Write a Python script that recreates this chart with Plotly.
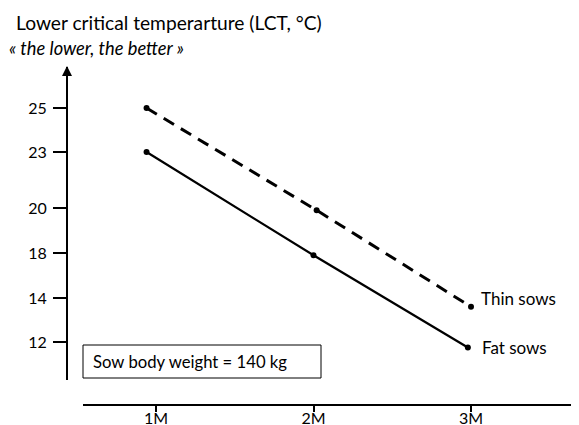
import numpy as np
import plotly.graph_objects as go

# ---- data ----
months = ["1M", "2M", "3M"]
month_vals = [1, 2, 3]
thin_x = [0.94, 2.02, 3.0]
thin_lct = [25.0, 19.9, 13.6]
fat_x = [0.94, 2.0, 2.98]
fat_lct = [23.0, 17.8, 11.75]
y_tick_labels = [25, 23, 20, 18, 14, 12]

# ---- schematic (non-linear) y scale: position of each labelled tick ----
OFF = 8  # page body margin
W, H = 579 - OFF, 425 - OFF
tick_pos = [0, 44, 100, 145, 190, 234]  # distance below the "25" tick


def ypos(v):
    vals = np.array(y_tick_labels[::-1], dtype=float)
    pos = np.array(tick_pos[::-1], dtype=float)
    v = np.asarray(v, dtype=float)
    out = np.interp(v, vals, pos)
    lo = v < vals[0]
    slope = (pos[1] - pos[0]) / (vals[1] - vals[0])
    out[lo] = pos[0] + (v[lo] - vals[0]) * slope
    return out


def fx(x):
    return (x - OFF) / W


def fy(y):
    return 1 - (y - OFF) / H


FONT = "Lato"
fig = go.Figure()
fig.add_trace(go.Scatter(x=thin_x, y=ypos(thin_lct), mode="lines+markers",
                         line=dict(color="black", width=3, dash="12px,8px"),
                         marker=dict(size=6, color="black"), showlegend=False))
fig.add_trace(go.Scatter(x=fat_x, y=ypos(fat_lct), mode="lines+markers",
                         line=dict(color="black", width=2.2),
                         marker=dict(size=6, color="black"), showlegend=False))

# axis geometry in (window) pixels
x_left_px, x_right_px = 83, 576
px_per_month = 157.5
x1_px = 156
y_top_px, y_bot_px = 67, 380
y25_px = 108
xaxis_y_px = 405
yaxis_x_px = 67

x_range = [1 + (x_left_px - x1_px) / px_per_month, 1 + (x_right_px - x1_px) / px_per_month]
y_range = [y_bot_px - y25_px, y_top_px - y25_px]

fig.update_layout(
    template="none",
    width=W, height=H, margin=dict(l=0, r=0, t=0, b=0, autoexpand=False),
    paper_bgcolor="white", plot_bgcolor="white",
    font=dict(family=FONT, color="black"),
    xaxis=dict(domain=[fx(x_left_px), fx(x_right_px)], range=x_range,
               anchor="free", position=fy(xaxis_y_px), automargin=False,
               showline=True, linecolor="black", linewidth=2,
               ticks="outside", ticklen=6, tickwidth=2, tickcolor="black",
               tickvals=month_vals, ticktext=months, showgrid=False, zeroline=False,
               ticklabelstandoff=-7,
               tickfont=dict(size=16, family=FONT)),
    yaxis=dict(domain=[fy(y_bot_px), fy(y_top_px)], range=y_range,
               anchor="free", position=fx(yaxis_x_px), automargin=False,
               showline=True, linecolor="black", linewidth=2,
               ticks="outside", ticklen=13, tickwidth=2, tickcolor="black",
               tickvals=tick_pos, ticktext=[str(v) for v in y_tick_labels],
               showgrid=False, zeroline=False, ticklabelstandoff=3,
               tickfont=dict(size=16, family=FONT)),
)

annots = []
annots.append(dict(x=fx(14), y=fy(22), xref="paper", yref="paper", xanchor="left", yanchor="middle",
                   text="Lower critical temperarture (LCT, °C)", showarrow=False,
                   font=dict(size=19.2, family=FONT)))
annots.append(dict(x=fx(7), y=fy(48), xref="paper", yref="paper", xanchor="left", yanchor="middle",
                   text="<i>« the lower, the better »</i>", showarrow=False,
                   font=dict(size=18.3, family=FONT)))
annots.append(dict(x=fx(479), y=fy(298), xref="paper", yref="paper", xanchor="left", yanchor="middle",
                   text="Thin sows", showarrow=False, font=dict(size=17, family=FONT)))
annots.append(dict(x=fx(480), y=fy(347), xref="paper", yref="paper", xanchor="left", yanchor="middle",
                   text="Fat sows", showarrow=False, font=dict(size=17, family=FONT)))
annots.append(dict(x=fx(91), y=fy(362), xref="paper", yref="paper", xanchor="left", yanchor="middle",
                   text="Sow body weight = 140 kg", showarrow=False, font=dict(size=16.7, family=FONT)))
# axis arrows
annots.append(dict(x=fx(yaxis_x_px), y=fy(66), xref="paper", yref="paper", ax=0, ay=18,
                   showarrow=True, arrowhead=2, arrowsize=1, arrowwidth=2, arrowcolor="black", text=""))
fig.update_layout(annotations=annots)

fig.add_shape(type="rect", xref="paper", yref="paper",
              x0=fx(83), x1=fx(321), y0=fy(378), y1=fy(345),
              line=dict(color="black", width=1), fillcolor="rgba(0,0,0,0)")

fig.write_html("out.html")
